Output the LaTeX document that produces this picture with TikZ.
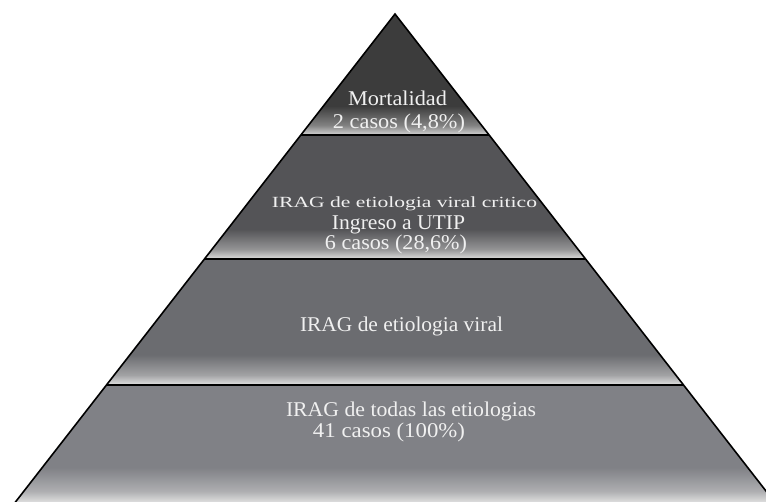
\documentclass[tikz,border=0pt]{standalone}
\usepackage{fontspec}
\setmainfont{Liberation Serif}
\usepackage{graphicx}
\usetikzlibrary{calc}
\definecolor{dA}{HTML}{3C3C3C}\definecolor{lA}{HTML}{C8C8C8}
\definecolor{dB}{HTML}{545457}\definecolor{lB}{HTML}{D2D2D2}
\definecolor{dC}{HTML}{6B6C70}\definecolor{lC}{HTML}{D8D8D8}
\definecolor{dD}{HTML}{808186}\definecolor{lD}{HTML}{DCDCDC}
\colorlet{mA}{dA!50!lA}\colorlet{mB}{dB!50!lB}\colorlet{mC}{dC!50!lC}\colorlet{mD}{dD!50!lD}
\pgfdeclareverticalshading{shA}{100bp}{color(0bp)=(lA); color(25.6bp)=(lA); color(29bp)=(mA); color(37bp)=(dA); color(100bp)=(dA)}
\pgfdeclareverticalshading{shB}{100bp}{color(0bp)=(lB); color(25.6bp)=(lB); color(29bp)=(mB); color(37bp)=(dB); color(100bp)=(dB)}
\pgfdeclareverticalshading{shC}{100bp}{color(0bp)=(lC); color(25.6bp)=(lC); color(29bp)=(mC); color(37bp)=(dC); color(100bp)=(dC)}
\pgfdeclareverticalshading{shD}{100bp}{color(0bp)=(lD); color(25.6bp)=(lD); color(30bp)=(mD); color(40bp)=(dD); color(100bp)=(dD)}
\newcommand\fitw[2]{\resizebox{#1pt}{\height}{#2}}
\tikzset{
  lbl/.style={text=white!94!black, inner sep=0pt, anchor=base, font=\fontsize{21}{24}\selectfont},
  lblsmall/.style={lbl, font=\fontsize{15.5}{18}\selectfont},
  sepline/.style={draw=black, line width=2.2pt},
  outline/.style={draw=black, line width=1.6pt, line join=miter}
}
\begin{document}
\begin{tikzpicture}[x=1pt,y=-1pt]
\useasboundingbox (0,0) rectangle (766,502);
\coordinate (apex) at (395,14);
\coordinate (bl) at (14.7,503);
\coordinate (br) at (775.3,503);
\coordinate (l1) at ($(apex)!0.2474!(bl)$);
\coordinate (r1) at ($(apex)!0.2474!(br)$);
\coordinate (l2) at ($(apex)!0.5010!(bl)$);
\coordinate (r2) at ($(apex)!0.5010!(br)$);
\coordinate (l3) at ($(apex)!0.7587!(bl)$);
\coordinate (r3) at ($(apex)!0.7587!(br)$);
\path[shading=shA] (apex) -- (l1) -- (r1) -- cycle;
\path[shading=shB] (l1) -- (l2) -- (r2) -- (r1) -- cycle;
\path[shading=shC] (l2) -- (l3) -- (r3) -- (r2) -- cycle;
\path[shading=shD] (l3) -- (bl) -- (br) -- (r3) -- cycle;
\draw[sepline] (l1) -- (r1);
\draw[sepline] (l2) -- (r2);
\draw[sepline] (l3) -- (r3);
\draw[outline] (bl) -- (apex) -- (br);
\node[lbl] (t1) at (397.5,106) {\fitw{99}{Mortalidad}};
\node[lbl] (t2) at (399,129) {\fitw{132}{2 casos (4,8\%)}};
\node[lblsmall] (t3) at (404.5,207.5) {\fitw{265}{IRAG de etiologia viral critico}};
\node[lbl] (t4) at (398.5,229.5) {\fitw{133}{Ingreso a UTIP}};
\node[lbl] (t5) at (396,249.5) {\fitw{142}{6 casos (28,6\%)}};
\node[lbl] (t6) at (401.5,332) {\fitw{203}{IRAG de etiologia viral}};
\node[lbl] (t7) at (411,417) {\fitw{250}{IRAG de todas las etiologias}};
\node[lbl] (t8) at (389,438) {\fitw{152}{41 casos (100\%)}};
\end{tikzpicture}
\end{document}
